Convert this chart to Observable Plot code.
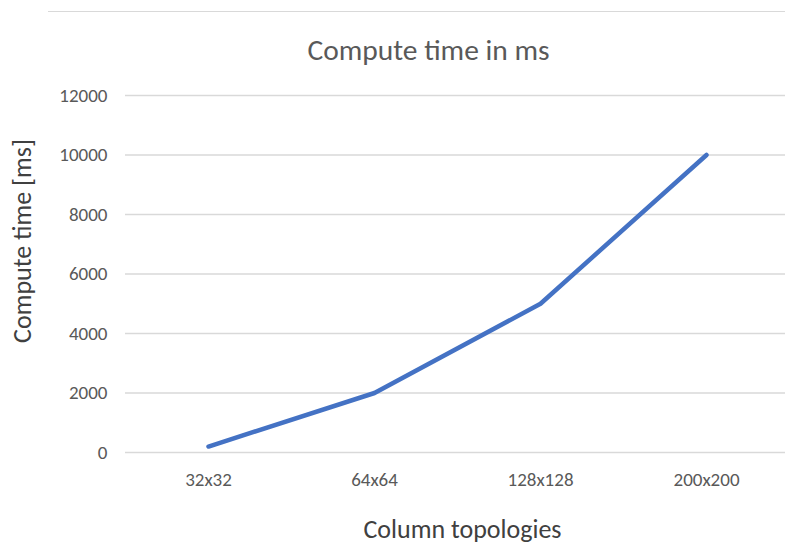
<!DOCTYPE html>
<html>
<head>
<meta charset="utf-8">
<script src="https://cdn.jsdelivr.net/npm/d3@7"></script>
<script src="https://cdn.jsdelivr.net/npm/@observablehq/plot@0.6"></script>
<style>
  html, body { margin: 0; padding: 0; background: #fff; }
  #wrap { position: relative; width: 785px; height: 545px; overflow: hidden; }
  #border { position: absolute; left: 48px; top: 11px; width: 740px; height: 0; border-top: 1.5px solid #d9d9d9; }
</style>
</head>
<body>
<div id="wrap"><div id="border"></div></div>
<script>
const categories = ["32x32", "64x64", "128x128", "200x200"];
const computeTime = [200, 2000, 5000, 10000];
const yTicks = [0, 2000, 4000, 6000, 8000, 10000, 12000];
const titleText = "Compute time in ms";
const yLabel = "Compute time [ms]";
const xLabel = "Column topologies";

const data = categories.map((c, i) => ({cat: c, v: computeTime[i]}));
const font = "Carlito, Lato, 'Open Sans', sans-serif";
const grey = "#595959";

const chart = Plot.plot({
  width: 785,
  height: 545,
  marginTop: 95,
  marginBottom: 93,
  marginLeft: 125,
  marginRight: -4,
  style: {fontFamily: font, background: "transparent", overflow: "visible"},
  x: {type: "point", domain: categories, padding: 0.5},
  y: {domain: [0, 12000]},
  marks: [
    Plot.ruleY(yTicks, {stroke: "#d9d9d9", strokeWidth: 1.3}),
    Plot.axisY({ticks: yTicks, tickSize: 0, tickPadding: 18, fontSize: 19, color: grey, label: null, tickFormat: d => String(d)}),
    Plot.axisX({tickSize: 0, tickPadding: 20, fontSize: 19, color: grey, label: null}),
    Plot.line(data, {x: "cat", y: "v", stroke: "#4472C4", strokeWidth: 4.5, strokeLinecap: "round", strokeLinejoin: "round"}),
    Plot.text([titleText], {text: d => d, frameAnchor: "top", lineAnchor: "middle", textAnchor: "middle", dy: -45, dx: -29, fontSize: 29.5, fill: grey}),
    Plot.text([yLabel], {text: d => d, frameAnchor: "left", textAnchor: "middle", lineAnchor: "middle", rotate: -90, dx: -103, dy: -33, fontSize: 26, fill: "#404040"}),
    Plot.text([xLabel], {text: d => d, frameAnchor: "bottom", textAnchor: "middle", lineAnchor: "middle", dy: 77, dx: 5, fontSize: 26, fill: "#404040"})
  ]
});
document.getElementById("wrap").appendChild(chart);
chart.style.position = "absolute";
chart.style.left = "0";
chart.style.top = "0";
</script>
</body>
</html>
